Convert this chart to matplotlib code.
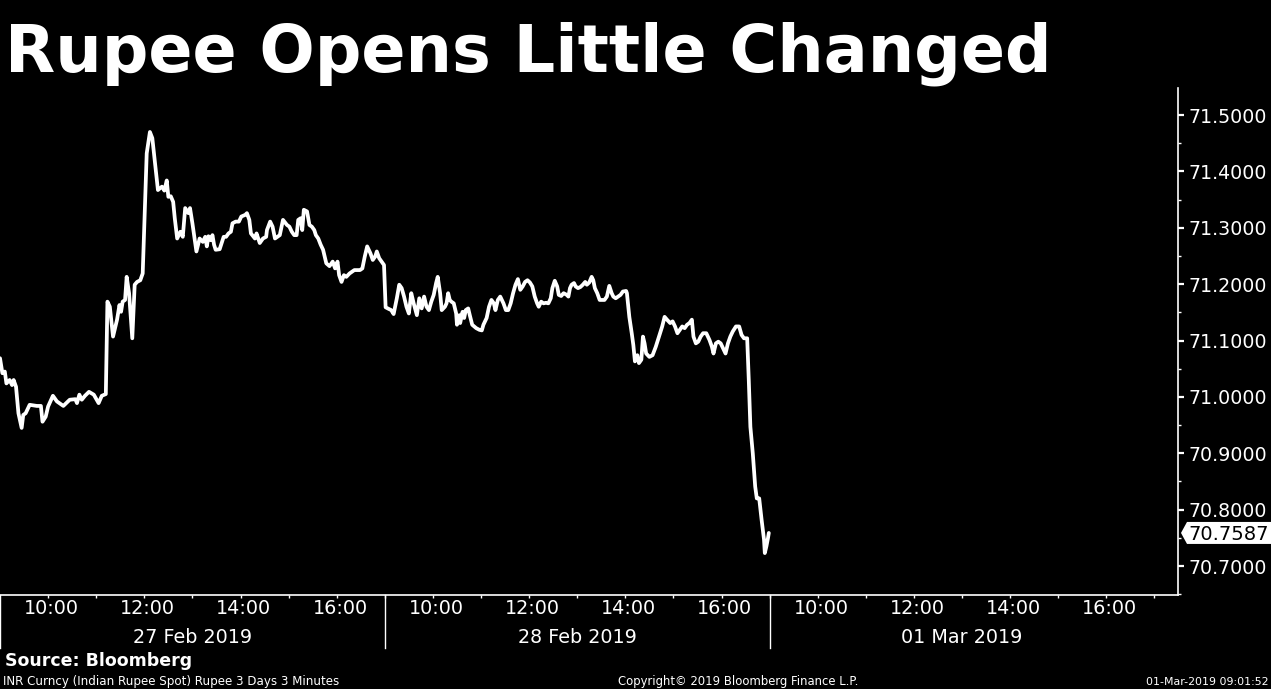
import matplotlib
matplotlib.use("Agg")
import matplotlib.pyplot as plt
from matplotlib.transforms import blended_transform_factory
from matplotlib.patches import Polygon
import numpy as np

# ---------------- data ----------------
title = "Rupee Opens Little Changed"
day_labels = ["27 Feb 2019", "28 Feb 2019", "01 Mar 2019"]
time_labels = ["10:00", "12:00", "14:00", "16:00"]
time_label_hours = [10, 12, 14, 16]
session_start = 9      # 09:00
session_hours = 8      # 09:00 - 17:00
y_ticks = [70.7, 70.8, 70.9, 71.0, 71.1, 71.2, 71.3, 71.4, 71.5]

# minutes after 09:00, 27 Feb 2019
d1_min = [0, 3, 6, 8, 12, 15, 17, 20, 23, 27, 29, 32, 37, 46, 51, 53, 57, 60, 66, 71,
          79, 87, 94, 96, 99, 102, 106, 111, 117, 123, 127, 132, 134, 137, 141, 146, 149, 151, 153, 156,
          158, 161, 165, 168, 171, 175, 178, 183, 187, 190, 193, 197, 202, 205, 208, 210, 213, 216, 218, 221,
          225, 228, 231, 235, 237, 240, 245, 249, 253, 256, 258, 260, 263, 265, 267, 269, 274, 277, 279, 282,
          285, 288, 290, 294, 298, 301, 306, 308, 311, 313, 318, 320, 324, 328, 332, 333, 337, 340, 343, 346,
          349, 353, 358, 361, 364, 367, 370, 372, 375, 377, 379, 383, 386, 389, 392, 394, 397, 400, 403, 404,
          407, 411, 415, 418, 421, 423, 426, 429, 432, 436, 439, 442, 445, 449, 452, 455, 458, 462, 465, 468,
          470, 473, 476, 479]
d1_val = [71.0686, 71.042, 71.045, 71.024, 71.030, 71.021, 71.030, 71.018, 70.971, 70.945, 70.968, 70.971, 70.986, 70.984, 70.984, 70.956, 70.965, 70.983, 71.002, 70.992,
          70.984, 70.995, 70.996, 70.989, 71.004, 70.995, 71.002, 71.009, 71.004, 70.989, 71.002, 71.005, 71.169, 71.160, 71.107, 71.137, 71.163, 71.151, 71.169, 71.172,
          71.213, 71.184, 71.104, 71.199, 71.204, 71.207, 71.219, 71.432, 71.470, 71.459, 71.420, 71.367, 71.373, 71.366, 71.384, 71.355, 71.356, 71.346, 71.317, 71.281,
          71.293, 71.284, 71.335, 71.326, 71.335, 71.308, 71.258, 71.281, 71.275, 71.284, 71.267, 71.285, 71.278, 71.287, 71.270, 71.261, 71.262, 71.275, 71.284, 71.284,
          71.290, 71.293, 71.308, 71.311, 71.311, 71.320, 71.323, 71.326, 71.314, 71.290, 71.281, 71.290, 71.273, 71.281, 71.284, 71.296, 71.311, 71.302, 71.281, 71.284,
          71.287, 71.314, 71.305, 71.302, 71.293, 71.287, 71.287, 71.314, 71.317, 71.296, 71.332, 71.329, 71.305, 71.302, 71.296, 71.287, 71.281, 71.270, 71.261, 71.255,
          71.237, 71.232, 71.240, 71.228, 71.240, 71.216, 71.204, 71.216, 71.213, 71.219, 71.222, 71.225, 71.225, 71.225, 71.228, 71.249, 71.267, 71.255, 71.243, 71.249,
          71.258, 71.246, 71.240, 71.234]

# minutes after 09:00, 28 Feb 2019
d2_min = [1, 5, 8, 11, 15, 18, 21, 24, 27, 30, 33, 36, 40, 43, 46, 49, 52, 55, 58, 61,
          64, 66, 69, 71, 75, 77, 79, 81, 83, 86, 89, 90, 93, 94, 97, 99, 101, 104, 106, 109,
          114, 118, 121, 123, 127, 130, 133, 136, 138, 141, 144, 148, 151, 154, 157, 160, 163, 166, 169, 172,
          175, 178, 181, 184, 187, 190, 192, 195, 198, 201, 204, 207, 209, 212, 215, 217, 220, 223, 227, 229,
          231, 233, 236, 238, 241, 244, 247, 250, 252, 255, 258, 260, 262, 265, 268, 272, 274, 277, 280, 283,
          285, 288, 291, 294, 297, 301, 302, 305, 308, 310, 312, 315, 317, 320, 322, 324, 326, 330, 334, 338,
          342, 346, 349, 352, 356, 359, 362, 365, 368, 371, 374, 377, 380, 383, 385, 388, 391, 394, 397, 401,
          405, 408, 410, 413, 416, 419, 422, 425, 428, 431, 434, 438, 442, 445, 448, 452, 454, 456, 459, 462,
          464, 467, 470, 473, 474, 476, 478, 479]
d2_val = [71.159, 71.156, 71.154, 71.147, 71.175, 71.199, 71.193, 71.178, 71.160, 71.148, 71.184, 71.166, 71.145, 71.175, 71.157, 71.178, 71.160, 71.154, 71.169, 71.181,
          71.202, 71.213, 71.184, 71.154, 71.160, 71.166, 71.184, 71.172, 71.169, 71.166, 71.148, 71.128, 71.145, 71.131, 71.151, 71.140, 71.154, 71.157, 71.145, 71.128,
          71.122, 71.119, 71.118, 71.128, 71.140, 71.160, 71.172, 71.166, 71.154, 71.172, 71.178, 71.166, 71.154, 71.154, 71.166, 71.184, 71.199, 71.209, 71.190, 71.196,
          71.204, 71.207, 71.203, 71.196, 71.178, 71.166, 71.160, 71.169, 71.166, 71.167, 71.166, 71.175, 71.193, 71.206, 71.196, 71.181, 71.179, 71.184, 71.181, 71.178,
          71.193, 71.199, 71.202, 71.196, 71.193, 71.195, 71.199, 71.204, 71.199, 71.203, 71.213, 71.207, 71.193, 71.184, 71.172, 71.172, 71.172, 71.178, 71.197, 71.184,
          71.178, 71.175, 71.178, 71.181, 71.187, 71.188, 71.184, 71.142, 71.113, 71.092, 71.063, 71.074, 71.060, 71.066, 71.107, 71.095, 71.077, 71.071, 71.074, 71.089,
          71.107, 71.125, 71.142, 71.137, 71.131, 71.134, 71.125, 71.113, 71.119, 71.125, 71.122, 71.128, 71.131, 71.137, 71.107, 71.095, 71.098, 71.107, 71.113, 71.113,
          71.101, 71.089, 71.077, 71.095, 71.098, 71.095, 71.086, 71.077, 71.095, 71.107, 71.116, 71.125, 71.125, 71.110, 71.104, 71.104, 71.030, 70.947, 70.900, 70.841,
          70.820, 70.820, 70.782, 70.747, 70.723, 70.735, 70.750, 70.7587]

# ---------------- figure ----------------
W, H, DPI = 1271, 689, 100
fig = plt.figure(figsize=(W / DPI, H / DPI), dpi=DPI, facecolor="black")

ax_left, ax_right, ax_top, ax_bottom = 0, 1178, 88, 595
ax = fig.add_axes([ax_left / W, 1 - ax_bottom / H, (ax_right - ax_left) / W, (ax_bottom - ax_top) / H])
ax.set_facecolor("black")

x1 = 0 * session_hours + np.array(d1_min) / 60.0
x2 = 1 * session_hours + np.array(d2_min) / 60.0
xs = np.concatenate([x1, x2])
ys = np.concatenate([d1_val, d2_val])

ax.plot(xs, ys, color="white", lw=2.7, solid_joinstyle="round", solid_capstyle="round")

ax.set_xlim(0, 24.49)
ax.set_ylim(70.6486, 71.548)

for s in ["left", "top"]:
    ax.spines[s].set_visible(False)
for s in ["right", "bottom"]:
    ax.spines[s].set_color("white")
    ax.spines[s].set_linewidth(1.2)

# y axis on the right
ax.yaxis.tick_right()
ax.set_yticks(y_ticks)
ax.set_yticklabels([f"{v:.4f}" for v in y_ticks])
ax.set_yticks([v + 0.05 for v in y_ticks[:-1]] + [70.65], minor=True)
ax.tick_params(axis="y", which="major", direction="out", length=4.5, width=1.6,
               colors="white", labelsize=13.7, pad=3.2)
ax.tick_params(axis="y", which="minor", direction="out", length=2.5, width=1, colors="white")

# x axis: hourly tick marks, labels at even hours
ndays = len(day_labels)
minor_x = [d * session_hours + h for d in range(ndays) for h in range(1, session_hours + 1)]
ax.set_xticks(minor_x, minor=True)
major_x = [d * session_hours + (h - session_start) + 0.07 for d in range(ndays) for h in time_label_hours]
ax.set_xticks(major_x)
ax.set_xticklabels(time_labels * ndays)
ax.tick_params(axis="x", which="major", length=0, colors="white", labelsize=13.8, pad=3)
ax.tick_params(axis="x", which="minor", direction="out", length=2.5, width=1, colors="white")

# day separators and date labels
btrans = blended_transform_factory(ax.transData, fig.transFigure)
for d in range(ndays):
    xb = d * session_hours
    ax.plot([xb, xb], [1 - ax_bottom / H, 1 - 648 / H], transform=btrans, color="white",
            lw=1.0, clip_on=False)
    ax.text(xb + session_hours / 2, 1 - 643 / H, day_labels[d], transform=btrans,
            color="white", fontsize=13.8, ha="center", va="baseline")

# last value tag
last_val = ys[-1]
fig.canvas.draw()
yp = ax.transData.transform((0, last_val))[1]
xp = ax.transAxes.transform((1, 0))[0]
tag = Polygon([[xp + 3, yp], [xp + 9, yp + 11], [W, yp + 11], [W, yp - 11], [xp + 9, yp - 11]],
              closed=True, transform=None, facecolor="white", edgecolor="none", zorder=5)
fig.patches.append(tag)
fig.text((xp + 10) / W, yp / H, f"{last_val:.4f}", color="black", fontsize=14,
         ha="left", va="center_baseline", zorder=6)

# title and footer
fig.text(5 / W, 1 - 72 / H, title, color="white", fontsize=47, fontweight="bold",
         ha="left", va="baseline")
fig.text(5 / W, 1 - 666 / H, "Source: Bloomberg", color="white", fontsize=12.5,
         fontweight="bold", ha="left", va="baseline")
fig.text(3 / W, 1 - 685 / H, "INR Curncy (Indian Rupee Spot) Rupee 3 Days 3 Minutes",
         color="white", fontsize=8.6, ha="left", va="baseline")
fig.text(738 / W, 1 - 685 / H, "Copyright\u00a9 2019 Bloomberg Finance L.P.",
         color="white", fontsize=8.4, ha="center", va="baseline")
fig.text(1268 / W, 1 - 685 / H, "01-Mar-2019 09:01:52", color="white", fontsize=7.9,
         ha="right", va="baseline")

fig.savefig("out.png", dpi=DPI, facecolor="black")
